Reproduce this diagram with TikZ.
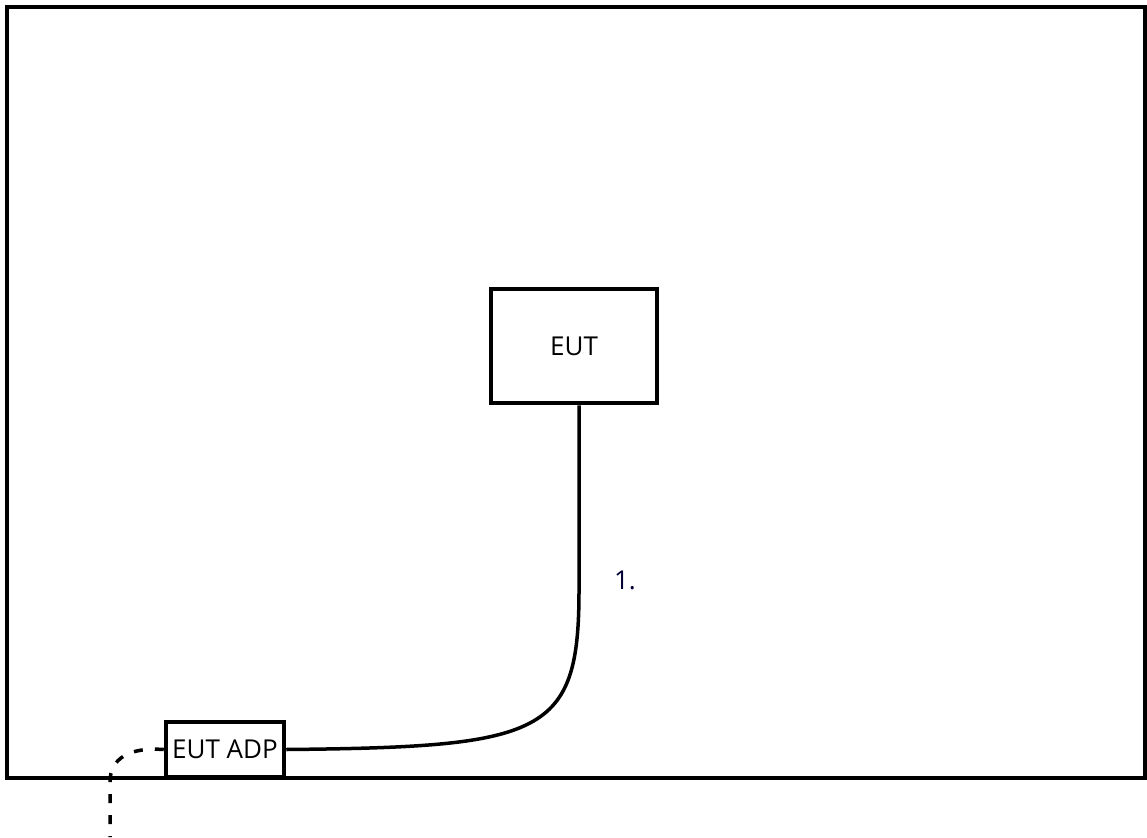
\documentclass[tikz,border=0pt]{standalone}
\usepackage{fontspec}
\setmainfont{Open Sans}
\begin{document}
\begin{tikzpicture}[x=1pt,y=-1pt,
  boxstyle/.style={draw=black,line width=4.5pt,fill=white,inner sep=0pt,font=\fontsize{26}{30}\selectfont},
  cable/.style={line width=3.5pt,black}]
\useasboundingbox (0,0) rectangle (1147,837);
\draw[line width=4.5pt] (7,7) rectangle (1145,778);
\node[boxstyle,minimum width=166pt,minimum height=114pt] (eut) at (574,346) {EUT};
\node[boxstyle,minimum width=118pt,minimum height=55pt] (adp) at (225,749.5) {EUT ADP};
\node[text=black!80!blue,font=\fontsize{26}{30}\selectfont] (lbl) at (625,580) {1.};
\coordinate (down) at (110,837);
\draw[cable] (eut.south -| 579,0) -- (579,590) .. controls (579,735) and (545,747) .. (adp.east);
\draw[cable,dash pattern=on 9pt off 12pt] (adp.west) .. controls (130,747) and (110,758) .. (110,782) -- (down);
\end{tikzpicture}
\end{document}
